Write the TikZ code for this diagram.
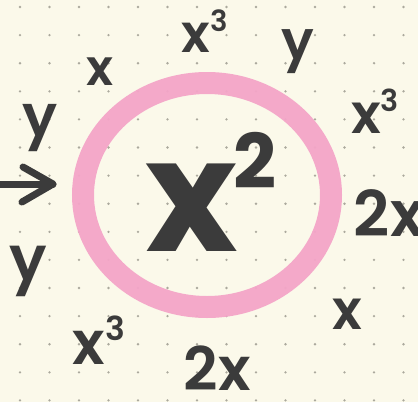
\documentclass[tikz,border=0pt]{standalone}
\usepackage{fontspec}
\setmainfont{Poppins}
\IfFontExistsTF{Poppins SemiBold}
  {\newfontfamily\lblfont{Poppins SemiBold}}
  {\newfontfamily\lblfont{Poppins}[FakeBold=1.5]}
\usepackage{graphicx}
\usetikzlibrary{arrows.meta,shapes.geometric}
\definecolor{paper}{HTML}{FBF9EA}
\definecolor{ink}{HTML}{3B3B3B}
\definecolor{dotgray}{HTML}{ABA99D}
\definecolor{marker}{HTML}{F4A5C8}
\newcommand{\upidx}[2][.55]{\raisebox{.4em}{\scalebox{#1}{#2}}}

\begin{document}
\begin{tikzpicture}[
  x=1pt, y=-1pt,
  lbl/.style={text=ink, inner sep=0pt, font=\fontsize{#1}{#1}\selectfont\lblfont},
  ring/.style={ellipse, draw=marker, line width=22pt, minimum width=248pt, minimum height=224pt, inner sep=0pt, opacity=.95},
  arrow/.style={draw=ink, line width=7pt, line cap=round, line join=round}
]
\fill[paper] (0,0) rectangle (418,402);
\useasboundingbox (0,0) rectangle (418,402);
% dot grid
\foreach \i in {0,...,13}
  \foreach \j in {0,...,14}
    \fill[dotgray] ({20+29.5*\i},{7+28.1*\j}) circle (1.3pt);

\node[ring] (ring) at (207,195) {};
\node[lbl=157, font=\fontsize{157}{157}\selectfont\bfseries] (square) at (211,192) {x\kern-4pt\upidx[.48]{2}};

% terms around the ring
\node[lbl=50] (xa) at (100,72) {x};
\node[lbl=53] (cubea) at (205,31) {x\upidx{3}};
\node[lbl=54] (ya) at (298,52) {y};
\node[lbl=55] (cubeb) at (375,111) {x\upidx{3}};
\node[lbl=63] (twoxa) at (389,213) {2x};
\node[lbl=55] (xb) at (347,314) {x};
\node[lbl=60] (twoxb) at (217,368) {2x};
\node[lbl=60] (cubec) at (99,340) {x\upidx{3}};
\node[lbl=58] (yb) at (40,128) {y};
\node[lbl=62] (yc) at (28,271) {y};

% arrow into the ring
\coordinate (start) at (0,184);
\coordinate (tip) at ([xshift=-19pt]ring.west |- start);
\draw[arrow] (start) -- (tip);
\draw[arrow] ([shift={(-30,-17)}]tip) -- (tip) -- ([shift={(-31,18)}]tip);
\end{tikzpicture}
\end{document}
